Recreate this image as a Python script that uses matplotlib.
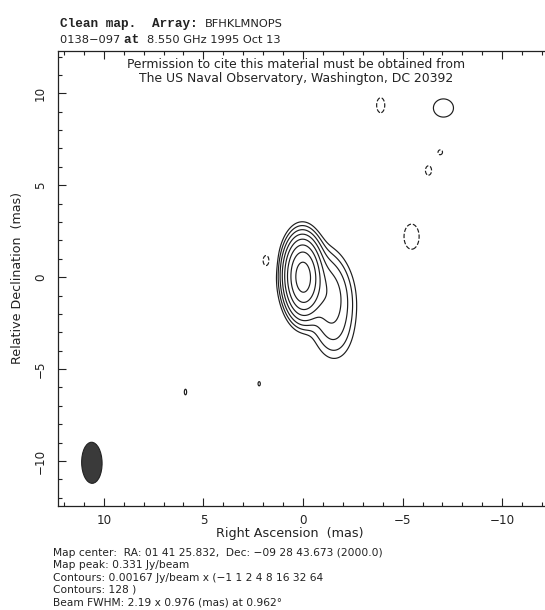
import numpy as np
import matplotlib
matplotlib.use("Agg")
import matplotlib.pyplot as plt
from matplotlib.patches import Ellipse

# ---------------- data ----------------
peak_flux = 0.331          # Jy/beam
base_level = 0.00167       # Jy/beam
level_multipliers = [-1, 1, 2, 4, 8, 16, 32, 64, 128]

beam_major = 2.19          # mas (FWHM)
beam_minor = 0.976         # mas (FWHM)
beam_pa = 0.962            # deg

# source components (x = relative RA, y = relative Dec, mas; peak in Jy/beam,
# intrinsic gaussian FWHM major/minor in mas and PA in deg, convolved with beam)
comp_x = [0.0, -1.2, -1.5]
comp_y = [0.0, -0.8, -2.7]
comp_peak = [0.310, 0.022, 0.0065]
comp_major = [0.0, 1.6, 1.0]
comp_minor = [0.0, 1.0, 0.8]
comp_pa = [0.0, 27.0, 27.0]

# residual noise features (peak Jy/beam, sigma x / sigma y in mas)
noise_x = [1.85, -3.9, -7.05, -5.45, -6.3, -6.9, 5.9, 2.2]
noise_y = [0.9, 9.35, 9.2, 2.2, 5.8, 6.8, -6.25, -5.8]
noise_peak = [-0.0019, -0.0019, 0.0025, -0.0022, -0.0019, -0.0018, 0.0018, 0.0018]
noise_sx = [0.30, 0.40, 0.56, 0.51, 0.30, 0.25, 0.15, 0.15]
noise_sy = [0.55, 0.80, 0.55, 0.92, 0.50, 0.30, 0.40, 0.30]

x_ticks = [10, 5, 0, -5, -10]
y_ticks = [-10, -5, 0, 5, 10]

title_1 = ["Clean map.  ", "Array: ", "BFHKLMNOPS"]
title_2 = ["0138\u2212097 ", "at ", "8.550 GHz 1995 Oct 13"]
permission = ("Permission to cite this material must be obtained from\n"
              "The US Naval Observatory, Washington, DC 20392")
info_lines = [
    "Map center:  RA: 01 41 25.832,  Dec: \u221209 28 43.673 (2000.0)",
    "Map peak: 0.331 Jy/beam",
    "Contours: 0.00167 Jy/beam x (\u22121 1 2 4 8 16 32 64",
    "Contours: 128 )",
    "Beam FWHM: 2.19 x 0.976 (mas) at 0.962\u00b0",
]

# ---------------- model map ----------------
xs = np.linspace(-13, 13, 901)
ys = np.linspace(-13, 13, 901)
X, Y = np.meshgrid(xs, ys)
f2s = 1.0 / (2.0 * np.sqrt(2.0 * np.log(2.0)))


def gcov(fmaj, fmin, pa_deg):
    t = np.deg2rad(pa_deg)
    a = np.array([np.sin(t), np.cos(t)])
    b = np.array([np.cos(t), -np.sin(t)])
    return (fmaj * f2s) ** 2 * np.outer(a, a) + (fmin * f2s) ** 2 * np.outer(b, b)


beam_cov = gcov(beam_major, beam_minor, beam_pa)
Z = np.zeros_like(X)
for cx, cy, cp, cj, cn, cpa in zip(comp_x, comp_y, comp_peak, comp_major,
                                   comp_minor, comp_pa):
    C = beam_cov + gcov(cj, cn, cpa)
    Ci = np.linalg.inv(C)
    dx, dy = X - cx, Y - cy
    q = Ci[0, 0] * dx * dx + 2 * Ci[0, 1] * dx * dy + Ci[1, 1] * dy * dy
    Z += cp * np.exp(-0.5 * q)
for nx, ny, npk, sx, sy in zip(noise_x, noise_y, noise_peak, noise_sx, noise_sy):
    Z += npk * np.exp(-0.5 * (((X - nx) / sx) ** 2 + ((Y - ny) / sy) ** 2))

levels = [base_level * m for m in level_multipliers]
styles = ["dashed" if m < 0 else "solid" for m in level_multipliers]

# ---------------- figure ----------------
W, H = 545, 610
plt.rcParams["font.family"] = ["DejaVu Sans"]
fig = plt.figure(figsize=(W / 100, H / 100), dpi=100)
INK = "#222222"

L, R, T, B = 58, 552, 51, 506
ax = fig.add_axes([L / W, 1 - B / H, (R - L) / W, (B - T) / H])
ax.set_xlim(12.3, -12.5)
ax.set_ylim(-12.45, 12.3)

ax.contour(X, Y, Z, levels=levels, colors="#1e1e1e", linewidths=0.85,
           linestyles=styles)

# beam
ax.add_patch(Ellipse((10.6, -10.1), beam_minor * 1.05, beam_major * 1.02,
                     angle=-beam_pa, facecolor="#3a3a3a", edgecolor=INK,
                     linewidth=0.8))

for s in ax.spines.values():
    s.set_linewidth(0.9)
    s.set_color(INK)
ax.set_xticks(x_ticks)
ax.set_yticks(y_ticks)
ax.set_xticks(np.arange(-12, 13, 1), minor=True)
ax.set_yticks(np.arange(-12, 13, 1), minor=True)
ax.tick_params(which="both", direction="in", top=True, right=False,
               color=INK, width=0.8)
ax.tick_params(which="major", length=6, labelsize=8.6, pad=6, colors=INK)
ax.tick_params(which="minor", length=3)
ax.tick_params(axis="y", labelrotation=90, pad=8)
ax.set_xticklabels([("%d" % v).replace("-", "\u2212") for v in x_ticks])
ax.set_yticklabels([("%d" % v).replace("-", "\u2212") for v in y_ticks])
for lb in ax.get_yticklabels():
    lb.set_va("center")

fig.text(290 / W, 1 - 534 / H, "Right Ascension  (mas)", ha="center",
         va="center", fontsize=9.2, color=INK)
fig.text(18 / W, 1 - 278 / H, "Relative Declination  (mas)", ha="center",
         va="center", rotation=90, fontsize=9.1, color=INK)

fig.text(296 / W, 1 - 58 / H, permission, ha="center", va="top",
         fontsize=8.9, color=INK, linespacing=1.1)

# titles with mixed fonts, laid out piece by piece on a common baseline
bold_kw = dict(family="Liberation Mono", weight="bold", fontsize=9.2,
               color="#222222")
sans_kw = dict(family="DejaVu Sans", fontsize=8.2, color=INK)
renderer = fig.canvas.get_renderer()


def mixed_line(parts, kws, x_px, y_px):
    x = x_px
    for p, kw in zip(parts, kws):
        t = fig.text(x / W, 1 - y_px / H, p, va="baseline", ha="left", **kw)
        bb = t.get_window_extent(renderer)
        x = bb.x1


mixed_line(title_1, [bold_kw, bold_kw, sans_kw], 60, 27)
mixed_line(title_2, [sans_kw, bold_kw, sans_kw], 60, 43)

for i, line in enumerate(info_lines):
    fig.text(53 / W, 1 - (553 + 12.3 * i) / H, line, ha="left", va="center",
             fontsize=7.7, color=INK)

fig.savefig("out.png", dpi=100, facecolor="white")
